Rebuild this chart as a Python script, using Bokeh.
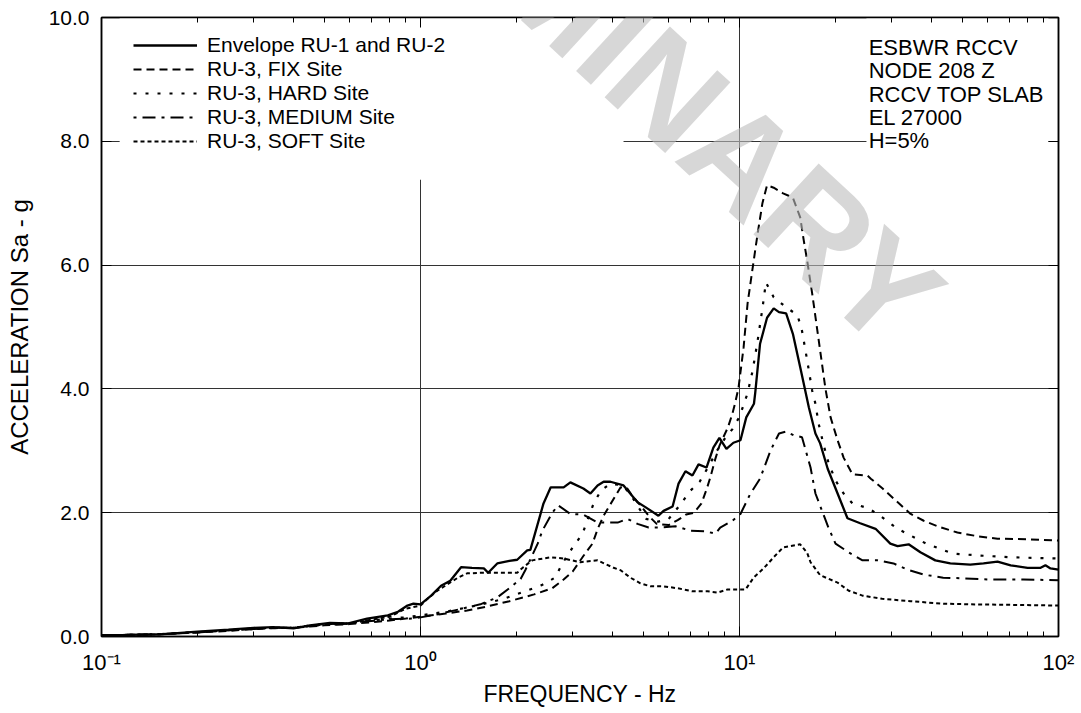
from bokeh.plotting import figure
from bokeh.models import (FixedTicker, LogAxis, LinearAxis, Range1d, Legend, LegendItem,
                          Label, BoxAnnotation, CustomJSTickFormatter, NumeralTickFormatter,
                          ColumnDataSource)
from bokeh.core.properties import value
from bokeh.embed import file_html
from bokeh.resources import INLINE

# ---------------- data (frequency Hz, spectral acceleration g) ----------------
env_f = [0.1, 0.12, 0.153, 0.2, 0.25, 0.3, 0.346, 0.4, 0.45, 0.52, 0.59, 0.68, 0.79, 0.85,
         0.91, 0.95, 1.0, 1.08, 1.16, 1.24, 1.34, 1.45, 1.58, 1.63, 1.74, 1.9, 2.01, 2.16,
         2.21, 2.43, 2.56, 2.81, 2.95, 3.24, 3.41, 3.59, 3.75, 3.94, 4.33, 4.79, 5.07, 5.57,
         5.78, 6.17, 6.44, 6.77, 7.12, 7.44, 7.88, 8.28, 8.65, 9.1, 9.57, 10.07, 10.5, 11.1,
         11.2, 11.6, 12.2, 12.8, 13.3, 14.0, 14.7, 15.5, 16.5, 17.3, 17.9, 18.9, 20.3, 21.8,
         23.9, 26.7, 29.7, 31.3, 33.9, 36.9, 41.1, 45.8, 52.9, 58.2, 64.4, 70.8, 80.0, 87.9,
         91.0, 94.4, 100.0]
env_sa = [0.02, 0.025, 0.035, 0.08, 0.11, 0.14, 0.15, 0.13, 0.18, 0.22, 0.21, 0.29, 0.34, 0.4,
          0.5, 0.53, 0.52, 0.66, 0.82, 0.9, 1.12, 1.11, 1.1, 1.03, 1.18, 1.22, 1.24, 1.39,
          1.4, 2.15, 2.41, 2.41, 2.49, 2.39, 2.31, 2.44, 2.5, 2.5, 2.44, 2.17, 2.09, 1.95,
          2.03, 2.1, 2.47, 2.67, 2.6, 2.78, 2.73, 3.05, 3.21, 3.03, 3.13, 3.17, 3.54, 3.76,
          3.93, 4.73, 5.15, 5.3, 5.24, 5.22, 4.89, 4.35, 3.7, 3.28, 3.12, 2.71, 2.31, 1.91,
          1.83, 1.74, 1.5, 1.46, 1.49, 1.36, 1.23, 1.18, 1.16, 1.18, 1.21, 1.15, 1.11, 1.11,
          1.15, 1.1, 1.08]

fix_f = [0.1, 0.15, 0.2, 0.25, 0.3, 0.35, 0.4, 0.45, 0.5, 0.6, 0.7, 0.8, 0.9, 1.0, 1.2, 1.4,
         1.6, 1.9, 2.27, 2.59, 2.81, 3.0, 3.24, 3.46, 3.6, 3.75, 3.9, 4.24, 4.45, 4.6, 4.89,
         5.19, 5.5, 6.0, 6.4, 6.8, 7.2, 7.6, 7.9, 8.1, 8.4, 8.65, 8.9, 9.2, 9.5, 9.7, 9.93,
         10.3, 10.6, 11.0, 11.4, 11.8, 12.2, 12.8, 13.7, 14.7, 15.5, 15.9, 16.3, 16.9, 17.6,
         18.6, 19.3, 20.3, 21.2, 22.6, 25.2, 25.8, 28.1, 30.4, 34.4, 37.8, 41.8, 48.2, 55.7,
         64.4, 80.0, 100.0]
fix_sa = [0.02, 0.035, 0.065, 0.09, 0.12, 0.135, 0.14, 0.16, 0.18, 0.2, 0.23, 0.26, 0.29, 0.32,
          0.37, 0.42, 0.48, 0.57, 0.68, 0.78, 0.92, 1.05, 1.3, 1.5, 1.75, 1.95, 2.1, 2.41, 2.39,
          2.28, 2.12, 1.95, 1.82, 1.8, 1.88, 1.97, 2.0, 2.15, 2.39, 2.57, 2.87, 3.08, 3.22,
          3.38, 3.6, 3.78, 4.02, 4.67, 5.38, 5.96, 6.51, 7.0, 7.29, 7.25, 7.16, 7.09, 6.77,
          6.4, 6.07, 5.54, 4.89, 4.0, 3.54, 3.17, 2.89, 2.62, 2.6, 2.55, 2.39, 2.23, 1.98,
          1.87, 1.78, 1.68, 1.62, 1.58, 1.57, 1.55]

hard_f = [0.1, 0.15, 0.2, 0.25, 0.3, 0.35, 0.4, 0.45, 0.5, 0.6, 0.7, 0.8, 0.9, 1.0, 1.2, 1.5,
          1.8, 2.1, 2.4, 2.64, 2.8, 3.0, 3.22, 3.33, 3.49, 3.68, 3.94, 4.3, 4.55, 4.8, 5.1,
          5.5, 6.0, 6.5, 7.0, 7.5, 8.0, 8.5, 9.0, 9.5, 10.0, 10.6, 11.0, 11.4, 11.8, 12.1,
          12.8, 14.0, 15.2, 15.7, 16.3, 16.9, 17.3, 17.7, 18.3, 19.0, 20.0, 21.2, 22.6, 25.4,
          28.1, 31.3, 34.4, 38.5, 46.6, 55.7, 70.8, 100.0]
hard_sa = [0.02, 0.035, 0.07, 0.1, 0.13, 0.14, 0.14, 0.17, 0.2, 0.21, 0.26, 0.29, 0.31, 0.34,
           0.4, 0.5, 0.6, 0.72, 0.83, 0.95, 1.2, 1.44, 1.66, 1.87, 2.15, 2.36, 2.47, 2.44, 2.3,
           2.1, 1.9, 1.85, 1.9, 2.12, 2.35, 2.5, 2.75, 3.0, 3.2, 3.35, 3.55, 3.93, 4.3, 4.78,
           5.3, 5.72, 5.48, 5.32, 5.19, 4.94, 4.46, 3.97, 3.76, 3.44, 3.12, 2.81, 2.52, 2.31,
           2.15, 2.07, 1.92, 1.74, 1.63, 1.5, 1.34, 1.31, 1.28, 1.26]

med_f = [0.1, 0.15, 0.2, 0.25, 0.3, 0.35, 0.4, 0.45, 0.5, 0.6, 0.7, 0.8, 0.955, 1.16, 1.54,
         1.74, 1.91, 2.06, 2.13, 2.33, 2.41, 2.59, 2.7, 2.95, 3.24, 3.59, 4.15, 4.46, 4.79,
         5.19, 5.65, 6.3, 7.02, 7.82, 8.41, 8.7, 9.5, 10.07, 10.8, 11.6, 12.5, 13.3, 14.0,
         14.8, 15.7, 16.7, 17.3, 18.3, 19.0, 20.0, 22.0, 24.3, 27.1, 30.4, 33.6, 37.8, 43.5,
         50.4, 61.2, 77.6, 100.0]
med_sa = [0.02, 0.035, 0.065, 0.1, 0.12, 0.14, 0.14, 0.17, 0.19, 0.21, 0.25, 0.28, 0.29, 0.37,
          0.52, 0.63, 0.79, 0.93, 1.07, 1.5, 1.71, 2.0, 2.12, 1.98, 1.97, 1.84, 1.84, 1.9,
          1.82, 1.76, 1.76, 1.78, 1.71, 1.7, 1.66, 1.76, 1.87, 1.98, 2.3, 2.55, 3.0, 3.28,
          3.31, 3.25, 3.22, 2.73, 2.31, 1.98, 1.76, 1.5, 1.36, 1.23, 1.23, 1.18, 1.08, 1.0,
          0.95, 0.94, 0.92, 0.92, 0.91]

soft_f = [0.1, 0.15, 0.2, 0.25, 0.3, 0.35, 0.4, 0.45, 0.5, 0.6, 0.7, 0.8, 0.9, 1.0, 1.052,
          1.13, 1.22, 1.31, 1.4, 1.57, 1.82, 2.01, 2.1, 2.24, 2.56, 2.81, 3.17, 3.59, 4.03,
          4.24, 4.55, 4.89, 5.26, 5.78, 6.39, 7.12, 7.94, 8.53, 9.17, 9.93, 10.45, 11.07,
          11.9, 12.8, 13.7, 15.5, 16.3, 16.7, 17.9, 20.3, 22.0, 24.3, 28.0, 34.4, 43.5, 53.0,
          100.0]
soft_sa = [0.02, 0.035, 0.07, 0.1, 0.13, 0.145, 0.14, 0.18, 0.2, 0.21, 0.27, 0.32, 0.45, 0.5,
           0.61, 0.74, 0.85, 0.95, 1.02, 1.03, 1.03, 1.03, 1.12, 1.23, 1.28, 1.26, 1.2, 1.23,
           1.11, 1.07, 0.95, 0.86, 0.81, 0.81, 0.78, 0.73, 0.73, 0.71, 0.76, 0.76, 0.76, 0.95,
           1.1, 1.28, 1.44, 1.49, 1.35, 1.2, 0.99, 0.87, 0.74, 0.66, 0.61, 0.57, 0.53, 0.52,
           0.5]

series_labels = ["Envelope RU-1 and RU-2", "RU-3, FIX Site", "RU-3, HARD Site",
                 "RU-3, MEDIUM Site", "RU-3, SOFT Site"]
info_lines = ["ESBWR RCCV", "NODE 208 Z", "RCCV TOP SLAB", "EL 27000", "H=5%"]
x_major = [0.1, 1, 10, 100]
x_minor = [m * d for d in (0.1, 1, 10) for m in range(2, 10)]
y_major = [0, 2, 4, 6, 8, 10]

FONT = "Liberation Sans"
FS = "21px"

p = figure(frame_width=957, frame_height=619, x_axis_type="log",
           x_range=Range1d(0.1, 100), y_range=Range1d(0, 10),
           output_backend="svg", toolbar_location=None,
           min_border_left=101, min_border_right=22, min_border_top=17, min_border_bottom=76,
           background_fill_color="white", border_fill_color="white")
p.outline_line_color = "black"
p.outline_line_width = 1.5

fmt = CustomJSTickFormatter(code="""
const e = Math.round(Math.log10(tick));
const m = {"-": "\\u207b", "0": "\\u2070", "1": "\\u00b9", "2": "\\u00b2", "3": "\\u00b3"};
return "10" + String(e).split("").map(c => m[c]).join("");
""")
blank = CustomJSTickFormatter(code="return '';")
xt = FixedTicker(ticks=x_major, minor_ticks=x_minor)
yt = FixedTicker(ticks=y_major)


def style_axis(ax, tick_fs="22px", label_fs="23px"):
    ax.axis_line_color = "black"
    ax.axis_line_width = 1.5
    ax.major_tick_in = 10
    ax.major_tick_out = 0
    ax.major_tick_line_color = "black"
    ax.major_tick_line_width = 1
    ax.minor_tick_in = 5
    ax.minor_tick_out = 0
    ax.minor_tick_line_color = "black"
    ax.major_label_text_font = FONT
    ax.major_label_text_font_size = tick_fs
    ax.major_label_text_color = "black"
    ax.axis_label_text_font = FONT
    ax.axis_label_text_font_size = label_fs
    ax.axis_label_text_font_style = "normal"
    ax.axis_label_text_color = "black"


xa = p.xaxis[0]
xa.ticker = xt
xa.formatter = fmt
style_axis(xa, "22px", "23px")
xa.major_label_standoff = 13
xa.axis_label = "FREQUENCY - Hz"
xa.axis_label_standoff = 3

ya = p.yaxis[0]
ya.ticker = yt
ya.formatter = NumeralTickFormatter(format="0.0")
style_axis(ya, "21px", "24px")
ya.minor_tick_line_color = None
ya.major_label_standoff = 12
ya.axis_label = "ACCELERATION Sa - g"
ya.axis_label_standoff = 13

top = LogAxis(ticker=xt, formatter=blank)
style_axis(top)
top.major_label_standoff = 0
p.add_layout(top, "above")

right = LinearAxis(ticker=yt, formatter=blank)
style_axis(right)
right.minor_tick_line_color = None
right.major_label_standoff = 0
p.add_layout(right, "right")

p.xgrid.ticker = FixedTicker(ticks=[1, 10])
p.ygrid.ticker = FixedTicker(ticks=[2, 4, 6, 8])
for g in (p.xgrid, p.ygrid):
    g.grid_line_color = "#333333"
    g.grid_line_width = 1

# opaque white areas behind the legend and the info block
p.add_layout(BoxAnnotation(left=0.114, right=4.33, bottom=7.38, top=10, fill_color="white",
                           fill_alpha=1, line_alpha=0, level="underlay"))
p.add_layout(BoxAnnotation(left=25.0, right=93.0, bottom=7.25, top=10, fill_color="white",
                           fill_alpha=1, line_alpha=0, level="underlay"))

r_env = p.line(env_f, env_sa, line_color="black", line_width=2.3)
r_fix = p.line(fix_f, fix_sa, line_color="black", line_width=2, line_dash="8 5")
r_hard = p.line(hard_f, hard_sa, line_color="black", line_width=2.2, line_dash="3 9")
r_med = p.line(med_f, med_sa, line_color="black", line_width=2, line_dash="3 6 13 6")
r_soft = p.line(soft_f, soft_sa, line_color="black", line_width=2, line_dash="4 3")

legend = Legend(items=[LegendItem(label=lab, renderers=[r]) for lab, r in
                       zip(series_labels, [r_env, r_fix, r_hard, r_med, r_soft])],
                location=(32, 483), padding=0, spacing=-1, margin=0,
                glyph_width=64, glyph_height=22, label_height=22, label_standoff=10,
                label_text_font=FONT, label_text_font_size=FS, label_text_color="black",
                background_fill_alpha=0, border_line_alpha=0)
p.add_layout(legend)

src = ColumnDataSource(dict(x=[25.4] * len(info_lines), y=[10] * len(info_lines),
                            t=info_lines, dy=[30 + 23.3 * i for i in range(len(info_lines))]))
p.text(x="x", y="y", text="t", y_offset="dy", source=src, text_font=value(FONT),
       text_font_size="22px", text_baseline="middle", text_align="left", text_color="black")

wm = Label(x=36.4, y=5.1, text="PRELIMINARY", angle=-0.745, text_align="right",
           text_baseline="middle", text_font=FONT, text_font_size="140px",
           text_font_style="bold", text_color="#bcbcbc", text_alpha=0.6)
p.add_layout(wm)

open("out.html", "w").write(file_html(p, INLINE))
